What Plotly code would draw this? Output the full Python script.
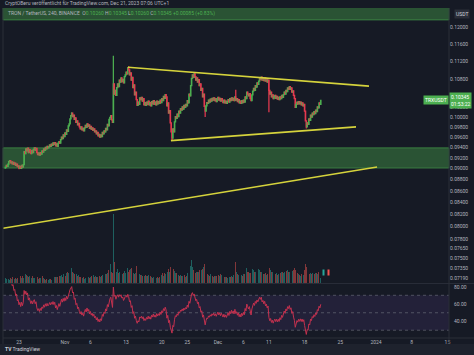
import math
import numpy as np
import pandas as pd
import plotly.graph_objects as go

# ---------------- data ----------------
start_time = "2023-10-20 08:00"      # first 4H candle
first_open_e5 = 9010                 # open of first candle, 1e-5 USDT

# 4H closes in 1e-5 USDT, one line per day
close_e5 = [
    9028, 9060, 9041, 9085,                       # Oct 20
    9130, 9150, 9105, 9125, 9090, 9115,           # Oct 21
    9080, 9100, 9060, 9085, 9035, 9050,           # Oct 22
    9010, 9040, 9005, 9060, 9030, 9075,           # Oct 23
    9320, 9280, 9370, 9330, 9385, 9300,           # Oct 24
    9355, 9310, 9280, 9340, 9300, 9360,           # Oct 25
    9390, 9340, 9380, 9300, 9260, 9290,           # Oct 26
    9250, 9300, 9270, 9330, 9310, 9370,           # Oct 27
    9340, 9400, 9370, 9420, 9390, 9410,           # Oct 28
    9445, 9420, 9460, 9440, 9485, 9455,           # Oct 29
    9490, 9430, 9465, 9420, 9480, 9510,           # Oct 30
    9480, 9550, 9600, 9570, 9640, 9610,           # Oct 31
    9680, 9650, 9740, 9710, 9820, 9860,           # Nov 1
    9960, 10030, 10080, 10010, 10040, 9950,       # Nov 2
    9980, 9890, 9920, 9840, 9870, 9800,           # Nov 3
    9760, 9800, 9740, 9770, 9720, 9780,           # Nov 4
    9830, 9790, 9860, 9810, 9840, 9770,           # Nov 5
    9810, 9750, 9780, 9730, 9760, 9700,           # Nov 6
    9720, 9660, 9690, 9620, 9650, 9600,           # Nov 7
    9640, 9610, 9690, 9660, 9720, 9700,           # Nov 8
    9770, 9740, 9850, 9820, 9950, 9990,           # Nov 9
    10030, 9940, 9890, 10700, 10480, 10560,       # Nov 10
    10450, 10620, 10700, 10640, 10780, 10740,     # Nov 11
    10830, 10750, 10800, 10720, 10860, 10900,     # Nov 12
    10960, 10920, 11060, 11010, 10900, 10940,     # Nov 13
    10780, 10840, 10620, 10680, 10460, 10520,     # Nov 14
    10360, 10240, 10310, 10260, 10400, 10360,     # Nov 15
    10410, 10330, 10380, 10250, 10300, 10240,     # Nov 16
    10310, 10260, 10330, 10250, 10300, 10230,     # Nov 17
    10320, 10270, 10340, 10260, 10310, 10250,     # Nov 18
    10330, 10270, 10320, 10280, 10350, 10300,     # Nov 19
    10380, 10340, 10430, 10390, 10470, 10420,     # Nov 20
    10230, 10290, 10080, 10130, 9880, 9700,       # Nov 21
    9580, 9760, 9700, 9900, 10010, 9970,          # Nov 22
    10060, 10010, 10120, 10080, 10170, 10140,     # Nov 23
    10210, 10160, 10240, 10200, 10260, 10230,     # Nov 24
    10340, 10290, 10480, 10440, 10660, 10820,     # Nov 25
    10900, 10840, 10920, 10860, 10780, 10830,     # Nov 26
    10740, 10790, 10660, 10700, 10560, 10600,     # Nov 27
    10420, 10480, 10220, 10120, 10230, 10300,     # Nov 28
    10280, 10350, 10310, 10370, 10330, 10390,     # Nov 29
    10350, 10400, 10340, 10380, 10320, 10370,     # Nov 30
    10410, 10350, 10390, 10330, 10380, 10340,     # Dec 1
    10300, 10350, 10290, 10330, 10280, 10320,     # Dec 2
    10360, 10310, 10380, 10340, 10400, 10350,     # Dec 3
    10390, 10340, 10420, 10350, 10380, 10320,     # Dec 4
    10360, 10290, 10330, 10280, 10340, 10300,     # Dec 5
    10350, 10310, 10420, 10380, 10520, 10480,     # Dec 6
    10440, 10490, 10380, 10340, 10460, 10540,     # Dec 7
    10600, 10560, 10660, 10630, 10720, 10690,     # Dec 8
    10760, 10820, 10790, 10850, 10780, 10820,     # Dec 9
    10770, 10830, 10760, 10800, 10740, 10780,     # Dec 10
    10560, 10480, 10520, 10420, 10460, 10380,     # Dec 11
    10420, 10450, 10390, 10430, 10370, 10410,     # Dec 12
    10360, 10420, 10380, 10450, 10410, 10470,     # Dec 13
    10520, 10480, 10560, 10530, 10610, 10580,     # Dec 14
    10640, 10580, 10610, 10520, 10550, 10450,     # Dec 15
    10380, 10200, 10260, 10310, 10270, 10320,     # Dec 16
    10270, 10310, 10250, 10290, 10230, 10260,     # Dec 17
    10120, 9920, 9800, 9880, 9850, 9960,          # Dec 18
    9930, 10040, 10000, 10080, 10050, 10110,      # Dec 19
    10070, 10140, 10110, 10210, 10190, 10290,     # Dec 20
    10260, 10345,                                 # Dec 21
]

# notable wicks (1e-5 USDT)
wick_high_e5 = {"2023-11-10 12:00": 11330, "2023-11-13 12:00": 11090,
                "2023-12-04 12:00": 10570, "2023-11-02 08:00": 10100}
wick_low_e5 = {"2023-11-22 00:00": 9520, "2023-11-28 12:00": 10000,
               "2023-12-11 00:00": 10100, "2023-12-18 08:00": 9770,
               "2023-10-23 00:00": 8990}

# 4H volume, millions TRX
volume_m = [
    45, 38, 52, 40,
    35, 30, 42, 38, 50, 33,
    28, 32, 40, 36, 44, 30,
    48, 55, 62, 40, 58, 45,
    160, 95, 80, 70, 65, 55,
    60, 48, 52, 45, 58, 40,
    42, 50, 65, 55, 48, 38,
    45, 40, 52, 48, 60, 42,
    35, 30, 38, 33, 40, 28,
    32, 36, 30, 42, 45, 34,
    50, 55, 48, 52, 62, 45,
    58, 64, 70, 55, 75, 80,
    72, 60, 85, 95, 88, 100,
    150, 240, 130, 95, 90, 80,
    85, 70, 75, 60, 68, 55,
    50, 42, 45, 40, 48, 38,
    45, 52, 40, 48, 55, 42,
    50, 58, 46, 62, 70, 55,
    60, 55, 52, 68, 58, 62,
    55, 60, 72, 65, 58, 70,
    80, 75, 90, 110, 95, 120,
    165, 100, 90, 600, 180, 120,
    110, 95, 120, 85, 100, 90,
    80, 95, 75, 90, 105, 85,
    110, 120, 135, 100, 115, 125,
    130, 110, 95, 85, 80, 90,
    150, 95, 85, 90, 75, 70,
    70, 65, 80, 75, 60, 68,
    62, 58, 70, 55, 65, 60,
    50, 45, 55, 48, 52, 46,
    45, 50, 42, 55, 48, 52,
    70, 85, 65, 90, 75, 80,
    110, 95, 120, 100, 140, 130,
    240, 160, 120, 105, 90, 85,
    80, 75, 70, 65, 72, 60,
    65, 58, 62, 70, 55, 60,
    90, 110, 100, 130, 150, 200,
    140, 110, 95, 85, 90, 100,
    95, 100, 110, 90, 105, 115,
    120, 140, 165, 130, 110, 95,
    80, 70, 65, 75, 68, 60,
    60, 55, 65, 58, 62, 50,
    65, 70, 60, 75, 68, 58,
    50, 45, 55, 48, 52, 42,
    45, 50, 48, 55, 60, 52,
    70, 85, 120, 180, 95, 75,
    70, 65, 60, 75, 68, 62,
    75, 80, 110, 180, 130, 100,
    95, 85, 90, 80, 105, 120,
    110, 95, 100, 115, 90, 105,
    120, 110, 95, 100, 85, 90,
    80, 75, 85, 70, 78, 90,
    150, 130, 115, 100, 95, 90,
    85, 80, 75, 90, 70, 78,
    75, 80, 90, 100, 95, 85,
    100, 110, 95, 105, 115, 100,
    95, 100, 110, 120, 105, 115,
    130, 110, 90, 80, 85, 75,
    70, 65, 75, 60, 68, 72,
    110, 165, 140, 100, 95, 90,
    80, 85, 75, 90, 70, 78,
    75, 85, 90, 80, 95, 88,
    70, 40,
]

# zones (USDT)
zone_top = (0.1219, 0.1270)
zone_low = (0.0901, 0.0939)

# trend lines
tl_upper_x = ["2023-11-13 09:00", "2023-12-30 15:00"]
tl_upper_y = [0.1107, 0.1065]
tl_lower_x = ["2023-11-21 19:00", "2023-12-28 02:00"]
tl_lower_y = [0.0953, 0.0980]
tl_long_x = ["2023-10-19 20:40", "2024-01-01 05:00"]
tl_long_y = [0.0797, 0.0903]

# axis ticks
price_ticks = [0.120, 0.116, 0.112, 0.108, 0.102, 0.100, 0.098, 0.096,
               0.094, 0.092, 0.090, 0.088, 0.086, 0.084, 0.082, 0.080, 0.078,
               0.0765, 0.0750, 0.0735, 0.0719]
rsi_ticks = [40, 60, 80]
time_ticks = ["2023-10-23", "2023-11-01", "2023-11-06", "2023-11-13", "2023-11-20",
              "2023-11-25", "2023-12-01", "2023-12-06", "2023-12-11", "2023-12-18",
              "2023-12-25", "2024-01-01", "2024-01-08", "2024-01-15"]
time_labels = ["23", "Nov", "6", "13", "20", "25", "Dec", "6", "11", "18", "25",
               "2024", "8", "15"]

x_range = ["2023-10-19 20:40", "2024-01-15 07:30"]
price_range = (0.07127, 0.12491)
rsi_range = (21.1, 82.9)
vol_range = (0, 2400)

# ---------------- build series ----------------
assert len(close_e5) == len(volume_m), (len(close_e5), len(volume_m))
t = pd.date_range(start_time, periods=len(close_e5), freq="4h")
close = np.array(close_e5, dtype=float) / 1e5
open_ = np.r_[first_open_e5 / 1e5, close[:-1]]
high = np.maximum(open_, close)
low = np.minimum(open_, close)
for k, v in wick_high_e5.items():
    i = t.get_loc(pd.Timestamp(k)); high[i] = v / 1e5
for k, v in wick_low_e5.items():
    i = t.get_loc(pd.Timestamp(k)); low[i] = v / 1e5

delta = pd.Series(close).diff()
gain = delta.clip(lower=0).ewm(alpha=1 / 14, adjust=False, min_periods=2).mean()
loss = (-delta.clip(upper=0)).ewm(alpha=1 / 14, adjust=False, min_periods=2).mean()
rsi = 100 - 100 / (1 + gain / loss)

UP = "#4caf50"
DN = "#e5394f"
BG = "#161a25"
TXT = "#b2b5be"
YEL = "#d5d33c"
FONT = "Roboto"

vol_colors = ["rgba(38,166,154,0.5)" if c >= o else "rgba(239,83,80,0.5)"
              for o, c in zip(open_, close)]

fig = go.Figure()
fig.add_trace(go.Bar(x=t, y=volume_m, marker=dict(color=vol_colors, line=dict(width=0)),
                     width=4 * 3600 * 1000 * 0.75, xaxis="x", yaxis="y2",
                     showlegend=False, hoverinfo="skip"))
fig.add_trace(go.Candlestick(x=t, open=open_, high=high, low=low, close=close,
                             increasing=dict(line=dict(color=UP, width=1.25), fillcolor=UP),
                             decreasing=dict(line=dict(color=DN, width=1.25), fillcolor=DN),
                             whiskerwidth=0, xaxis="x", yaxis="y",
                             showlegend=False, hoverinfo="skip"))
for xs, ys in [(tl_upper_x, tl_upper_y), (tl_lower_x, tl_lower_y), (tl_long_x, tl_long_y)]:
    fig.add_trace(go.Scatter(x=xs, y=ys, mode="lines", line=dict(color=YEL, width=1.6),
                             xaxis="x", yaxis="y", showlegend=False, hoverinfo="skip"))
fig.add_trace(go.Scatter(x=t, y=rsi, mode="lines", line=dict(color="#c4314f", width=1),
                         xaxis="x2", yaxis="y3", showlegend=False, hoverinfo="skip"))

shapes = []
for z0, z1 in [zone_top, zone_low]:
    shapes.append(dict(type="rect", xref="paper", x0=0, x1=1, yref="y", y0=z0, y1=z1,
                       fillcolor="rgba(76,175,80,0.38)",
                       line=dict(color="rgba(76,175,80,0.55)", width=1), layer="below"))
shapes.append(dict(type="rect", xref="paper", x0=0, x1=1, yref="y3", y0=30, y1=70,
                   fillcolor="rgba(126,87,194,0.13)", line=dict(width=0), layer="below"))
for lv in (70, 50, 30):
    shapes.append(dict(type="line", xref="paper", x0=0, x1=1, yref="y3", y0=lv, y1=lv,
                       line=dict(color="rgba(120,123,134,0.55)", width=1, dash="dot"),
                       layer="below"))
# frame / separators / footer strip
shapes += [
    dict(type="rect", xref="paper", yref="paper", x0=-0.01, x1=1.06, y0=-0.06, y1=-0.018,
         fillcolor="#1e222d", line=dict(width=0), layer="below"),
    dict(type="line", xref="paper", yref="paper", x0=1, x1=1, y0=-0.018, y1=1.0,
         line=dict(color="#2a2e39", width=1)),
    dict(type="line", xref="paper", yref="paper", x0=0, x1=1.06, y0=0.1652, y1=0.1652,
         line=dict(color="#2a2e39", width=1)),
    dict(type="line", xref="paper", yref="paper", x0=0, x1=1.06, y0=0, y1=0,
         line=dict(color="#2a2e39", width=1)),
    dict(type="line", xref="paper", yref="paper", x0=0, x1=0, y0=-0.018, y1=1.0,
         line=dict(color="#2a2e39", width=1)),
]

last = len(close) - 1
chg = close[last] - open_[last]
g = "<span style='color:%s'>" % UP
legend_txt = ("TRON / TetherUS, 240, BINANCE  " +
              "O%s%.5f</span> H%s%.5f</span> L%s%.5f</span> C%s%.5f</span> %s%+.5f (%+.2f%%)</span>"
              % (g, open_[last], g, high[last], g, low[last], g, close[last], g, chg,
                 100 * chg / open_[last]))

annotations = [
    dict(text="CryptOBeru veröffentlicht für TradingView.com, Dec 21, 2023 07:06 UTC+1",
         xref="paper", yref="paper", x=0, y=1.0, xanchor="left", yanchor="bottom",
         showarrow=False, font=dict(size=5, color=TXT, family=FONT), yshift=0),
    dict(text=legend_txt, xref="paper", yref="paper", x=0, y=0.982, xanchor="left",
         yanchor="middle", xshift=3, showarrow=False,
         font=dict(size=5, color=TXT, family=FONT)),
    dict(text="USDT", xref="paper", yref="paper", x=1, y=0.982, xanchor="left",
         yanchor="middle", xshift=5, showarrow=False, bgcolor="#2a2e39", borderpad=1,
         font=dict(size=5, color="#d1d4dc", family=FONT)),
    dict(text="%.5f<br>01:53:22" % close[last], xref="paper", yref="y", x=1,
         y=math.log10(close[last]), xanchor="left", yanchor="middle", showarrow=False,
         bgcolor=UP, borderpad=1, align="left",
         font=dict(size=5, color="#ffffff", family=FONT)),
    dict(text="TRXUSDT", xref="paper", yref="y", x=1, y=math.log10(close[last]),
         xanchor="right", yanchor="middle", showarrow=False, bgcolor=UP, borderpad=1,
         font=dict(size=5, color="#ffffff", family=FONT)),
    dict(text="&nbsp;", xref="x", yref="paper", x=t[last], y=0.188, xanchor="left",
         xshift=1, showarrow=False, bgcolor="#26a69a", borderpad=0,
         font=dict(size=4, color="#ffffff")),
    dict(text="&nbsp;", xref="x", yref="paper", x=t[last], y=0.188, xanchor="left",
         xshift=6, showarrow=False, bgcolor="#ef5350", borderpad=0,
         font=dict(size=4, color="#ffffff")),
    dict(text="<b>TV</b> TradingView", xref="paper", yref="paper", x=0, y=-0.033,
         xanchor="left", yanchor="middle", showarrow=False,
         font=dict(size=5, color="#d1d4dc", family=FONT)),
]
# RSI scale labels drawn at their RSI levels next to the pane
for v in rsi_ticks:
    annotations.append(dict(text="%.2f" % v, xref="paper", yref="y3", x=1, y=v,
                            xanchor="left", yanchor="middle", xshift=3, showarrow=False,
                            font=dict(size=5, color=TXT, family=FONT)))

ax_common = dict(showgrid=False, zeroline=False, showline=False, ticks="", ticklen=0)
fig.update_layout(
    width=474, height=355,
    margin=dict(l=3, r=25, t=8, b=17),
    paper_bgcolor=BG, plot_bgcolor=BG,
    showlegend=False,
    bargap=0,
    xaxis=dict(domain=[0, 1], anchor="y", range=x_range, type="date",
               showticklabels=False, rangeslider=dict(visible=False), **ax_common),
    xaxis2=dict(domain=[0, 1], anchor="y3", range=x_range, type="date", matches="x",
                tickvals=time_ticks, ticktext=time_labels,
                tickfont=dict(size=5, color=TXT, family=FONT), **ax_common),
    yaxis=dict(domain=[0.1667, 1], anchor="x", type="log", side="right",
               range=[math.log10(price_range[0]), math.log10(price_range[1])],
               tickvals=price_ticks, ticktext=["%.5f" % v for v in price_ticks],
               tickfont=dict(size=5, color=TXT, family=FONT), **ax_common),
    yaxis2=dict(overlaying="y", anchor="x", range=list(vol_range), visible=False),
    yaxis3=dict(domain=[0, 0.1636], anchor="x2", side="right", range=list(rsi_range),
                showticklabels=False, **ax_common),
    shapes=shapes,
    annotations=annotations,
)

fig.write_html("out.html", config={"displayModeBar": False},
               post_script="document.body.style.margin='0';document.body.style.background='%s';" % BG)
